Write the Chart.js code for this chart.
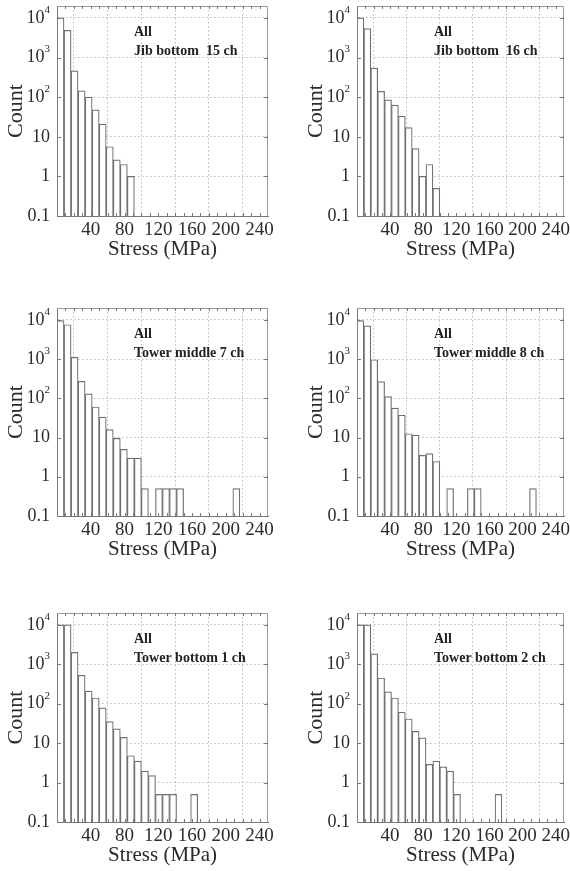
<!DOCTYPE html>
<html>
<head>
<meta charset="utf-8">
<title>Stress histograms</title>
<script src="https://cdn.jsdelivr.net/npm/chart.js@4.4.0/dist/chart.umd.min.js"></script>
<style>
  html, body { margin: 0; padding: 0; background: #fff; overflow: hidden; }
  body { width: 570px; height: 871px; position: relative; }
  .panel { position: absolute; }
  .panel canvas { display: block; }
</style>
</head>
<body>
<div class="panel" id="p0"><canvas id="c0"></canvas></div>
<div class="panel" id="p1"><canvas id="c1"></canvas></div>
<div class="panel" id="p2"><canvas id="c2"></canvas></div>
<div class="panel" id="p3"><canvas id="c3"></canvas></div>
<div class="panel" id="p4"><canvas id="c4"></canvas></div>
<div class="panel" id="p5"><canvas id="c5"></canvas></div>
<script>
// stress classes: 30 equal bins from 0 to 250 MPa, counts per bin (null = empty bin)
const stressMax = 250;
const binCount = 30;

const jibBottom15 = [10000, 4850, 460, 145, 100, 48, 21, 5.6, 2.6, 2, 1];
const jibBottom16 = [10000, 5400, 540, 140, 85, 63, 33, 17, 5, 1, 2, 0.5];
const towerMiddle7 = [9500, 7500, 1100, 270, 130, 60, 33, 16, 9.5, 5, 3, 3, 0.5,
  null, 0.5, 0.5, 0.5, 0.5, null, null, null, null, null, null, null, 0.5];
const towerMiddle8 = [9500, 7000, 960, 265, 110, 56, 37, 12.5, 11.5, 3.5, 3.9, 2.45,
  null, 0.5, null, null, 0.5, 0.5, null, null, null, null, null, null, null, 0.5];
const towerBottom1 = [10000, 10000, 2000, 525, 210, 140, 79, 35, 23, 14, 4.8, 3.5, 1.95, 1.5,
  0.5, 0.5, 0.5, null, null, 0.5];
const towerBottom2 = [10000, 10000, 1830, 450, 200, 140, 61, 41, 20, 13.6, 2.9, 3.5, 2.5, 1.95,
  0.5, null, null, null, null, null, 0.5];

const stressTicks = [40, 80, 120, 160, 200, 240];
const countTicks = [0.1, 1, 10, 100, 1000, 10000];
const countLabels = ['0.1', '1', '10', '10\u00B2', '10\u00B3', '10\u2074'];

const panelSeries = [jibBottom15, jibBottom16, towerMiddle7, towerMiddle8, towerBottom1, towerBottom2];
const panelLabels = [
  ['All', 'Jib bottom  15 ch'],
  ['All', 'Jib bottom  16 ch'],
  ['All', 'Tower middle 7 ch'],
  ['All', 'Tower middle 8 ch'],
  ['All', 'Tower bottom 1 ch'],
  ['All', 'Tower bottom 2 ch']
];

// page layout of the 3x2 grid
const serif = '"Liberation Serif", "Times New Roman", serif';
const ink = '#2b2b2b';
const colLeft = [0, 300];
const colWidth = [285, 270];
const colRightPad = [17, 6];
const rowTop = [0, 302, 607];
const rowPlotBottom = [216, 214, 215];
const panelHeight = 265;
const axisLeft = 57;
const xAxisHeight = 48;

const superDigits = { '\u00B2': '2', '\u00B3': '3', '\u2074': '4' };

// frame, inner minor ticks, y labels with raised exponents and the panel caption
const framePlugin = {
  id: 'frame',
  afterDraw(chart, args, opts) {
    const { ctx, chartArea: a, scales } = chart;
    const x = scales.x, y = scales.y;
    ctx.save();
    ctx.strokeStyle = '#9a9a9a';
    ctx.lineWidth = 1;
    ctx.beginPath();
    ctx.moveTo(a.left, a.top + 0.5);
    ctx.lineTo(a.right - 0.5, a.top + 0.5);
    ctx.lineTo(a.right - 0.5, a.bottom);
    ctx.stroke();

    ctx.strokeStyle = '#777';
    ctx.beginPath();
    for (let v = 10; v < stressMax; v += 10) {
      const px = Math.round(x.getPixelForValue(v)) + 0.5;
      ctx.moveTo(px, a.top);
      ctx.lineTo(px, a.top + 3);
      ctx.moveTo(px, a.bottom);
      ctx.lineTo(px, a.bottom - 3);
    }
    countTicks.forEach(v => {
      const py = Math.round(y.getPixelForValue(v)) + 0.5;
      ctx.moveTo(a.right, py);
      ctx.lineTo(a.right - 4, py);
      ctx.moveTo(a.left, py);
      ctx.lineTo(a.left + 4, py);
    });
    ctx.stroke();

    // count labels, powers of ten written as 10 with a small raised exponent
    ctx.fillStyle = ink;
    ctx.textAlign = 'right';
    ctx.textBaseline = 'middle';
    countTicks.forEach((v, i) => {
      const label = countLabels[i];
      const py = y.getPixelForValue(v);
      const right = a.left - 7;
      const sup = superDigits[label.slice(-1)];
      if (sup) {
        ctx.font = '11px ' + serif;
        ctx.fillText(sup, right, py - 8);
        const w = ctx.measureText(sup).width;
        ctx.font = '18px ' + serif;
        ctx.fillText(label.slice(0, -1), right - w, py);
      } else {
        ctx.font = '18px ' + serif;
        ctx.fillText(label, right, py);
      }
    });

    ctx.fillStyle = '#222';
    ctx.font = 'bold 14px ' + serif;
    ctx.textAlign = 'left';
    ctx.textBaseline = 'alphabetic';
    opts.lines.forEach((t, i) => {
      ctx.fillText(t, a.left + 77, a.top + 30 + i * 19);
    });
    ctx.restore();
  }
};

function binData(counts) {
  const pts = [];
  for (let i = 0; i < binCount; i++) {
    const c = i < counts.length ? counts[i] : null;
    pts.push({ x: (i + 0.5) * stressMax / binCount, y: c });
  }
  return pts;
}

function renderPanel(idx) {
  const col = idx % 2;
  const row = Math.floor(idx / 2);
  const wrap = document.getElementById('p' + idx);
  const canvas = document.getElementById('c' + idx);
  wrap.style.left = colLeft[col] + 'px';
  wrap.style.top = rowTop[row] + 'px';
  canvas.width = colWidth[col];
  canvas.height = panelHeight;

  new Chart(canvas.getContext('2d'), {
    type: 'bar',
    data: {
      datasets: [{
        data: binData(panelSeries[idx]),
        backgroundColor: '#ffffff',
        borderColor: '#6f6f6f',
        borderWidth: 1.2,
        barPercentage: 1,
        categoryPercentage: 1
      }]
    },
    options: {
      responsive: false,
      animation: false,
      layout: {
        padding: {
          left: 0,
          top: 6,
          right: colRightPad[col],
          bottom: panelHeight - rowPlotBottom[row] - xAxisHeight
        }
      },
      plugins: {
        legend: { display: false },
        tooltip: { enabled: false },
        frame: { lines: panelLabels[idx] }
      },
      scales: {
        x: {
          type: 'linear',
          min: 0,
          max: stressMax,
          offset: false,
          afterBuildTicks: s => { s.ticks = stressTicks.map(v => ({ value: v })); },
          afterFit: s => {
            s.height = xAxisHeight;
            s.paddingLeft = 0;
            s.paddingRight = 0;
          },
          ticks: {
            autoSkip: false,
            maxRotation: 0,
            padding: 3,
            color: ink,
            font: { family: serif, size: 19 }
          },
          grid: { color: '#bdbdbd', drawTicks: false, lineWidth: 1 },
          border: { display: true, color: '#777', width: 1, dash: [1.5, 2.5] },
          title: {
            display: true,
            text: 'Stress (MPa)',
            color: ink,
            font: { family: serif, size: 21 },
            padding: { top: 0, bottom: 2 }
          }
        },
        y: {
          type: 'logarithmic',
          min: 0.1,
          max: 20000,
          afterBuildTicks: s => { s.ticks = countTicks.map(v => ({ value: v })); },
          afterFit: s => {
            s.width = axisLeft;
            s.paddingTop = 0;
            s.paddingBottom = 0;
          },
          ticks: {
            color: 'rgba(0,0,0,0)',
            font: { family: serif, size: 18 },
            callback: v => countLabels[countTicks.indexOf(v)]
          },
          grid: { color: '#bdbdbd', drawTicks: false, lineWidth: 1 },
          border: { display: true, color: '#777', width: 1, dash: [1.5, 2.5] },
          title: {
            display: true,
            text: 'Count',
            color: ink,
            font: { family: serif, size: 22 },
            padding: { top: 3, bottom: 0 }
          }
        }
      }
    },
    plugins: [framePlugin]
  });
}

for (let i = 0; i < 6; i++) renderPanel(i);
</script>
</body>
</html>
